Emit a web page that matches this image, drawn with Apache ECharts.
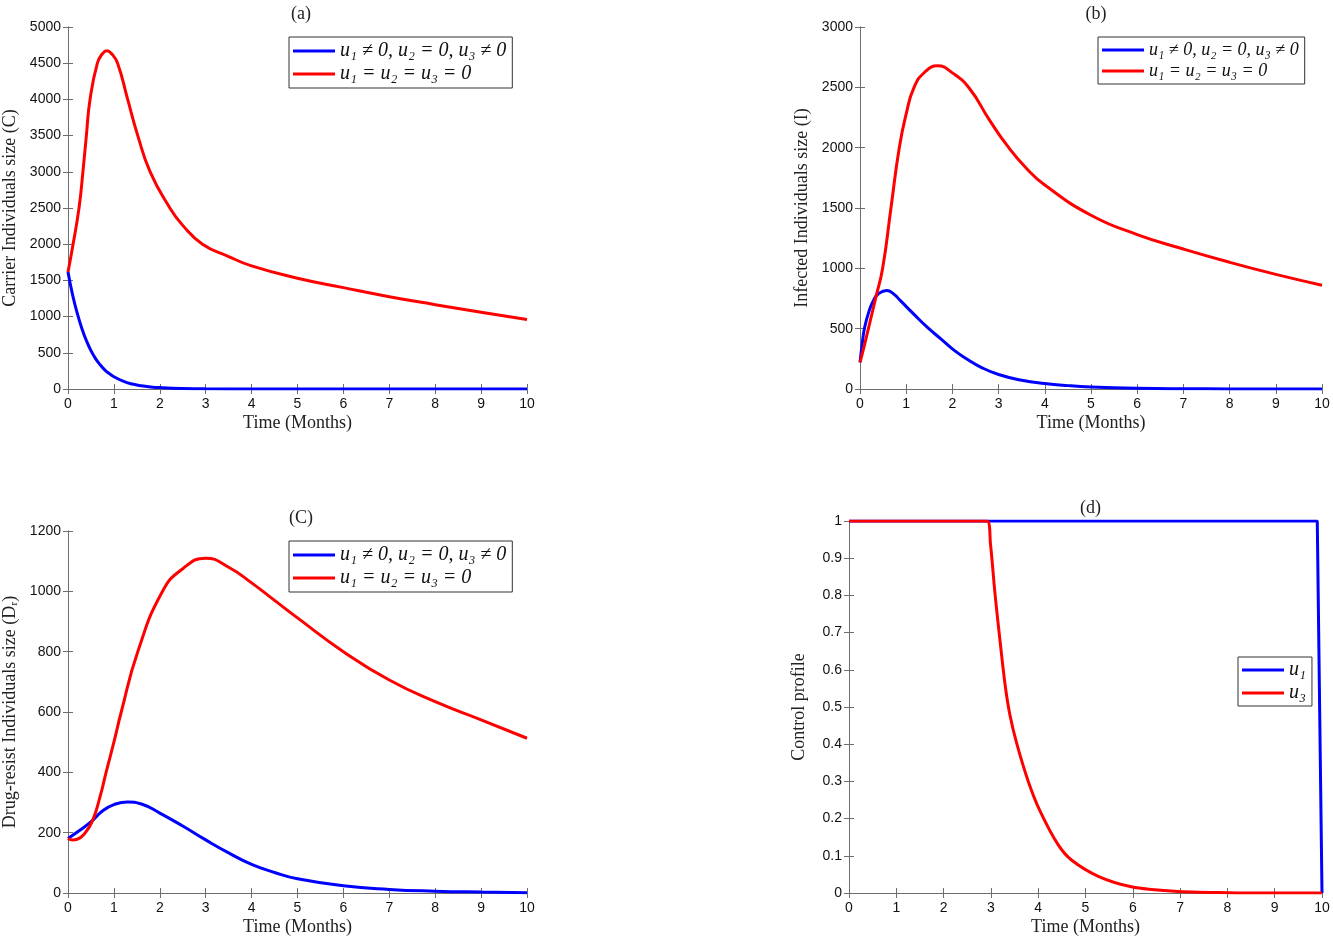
<!DOCTYPE html>
<html>
<head>
<meta charset="utf-8">
<script src="https://cdn.jsdelivr.net/npm/echarts@6/dist/echarts.min.js"></script>
<style>
html,body{margin:0;padding:0;background:#fff;}
#main{width:1333px;height:941px;}
</style>
</head>
<body>
<div id="main"></div>
<script>
// legend names
var nameCtrl = 'u\u2081 \u2260 0, u\u2082 = 0, u\u2083 \u2260 0';
var nameNone = 'u\u2081 = u\u2082 = u\u2083 = 0';
var nameU1 = 'u\u2081';
var nameU3 = 'u\u2083';

// (a) carrier individuals
var tCarrierCtrl = [0,0.1,0.2,0.3,0.4,0.5,0.6,0.7,0.8,0.9,1.0,1.2,1.4,1.6,1.8,2.0,2.5,3,4,5,6,7,8,9,10];
var carrierCtrl  = [1617,1300,1050,840,670,530,420,335,265,212,170,108,68,44,29,20,8,3,1,0,0,0,0,0,0];
var tCarrierNone = [0,0.1,0.24,0.325,0.4,0.48,0.64,0.75,0.85,0.95,1.08,1.3,1.52,1.79,2.2,2.5,2.93,3.5,4,5,6,7,8,9,10];
var carrierNone  = [1617,1960,2500,3000,3500,4000,4500,4630,4672,4630,4500,4000,3500,3000,2520,2260,2000,1830,1700,1530,1400,1275,1165,1060,960];

// (b) infected individuals
var tInfCtrl = [0,0.05,0.1,0.2,0.3,0.4,0.58,0.72,0.88,1.17,1.46,1.75,2.04,2.33,2.62,3,3.5,4,4.5,5,6,7,8,9,10];
var infCtrl  = [220,380,510,650,740,790,816,790,730,618,510,415,320,245,180,120,72,45,28,17,6,2,1,0,0];
var tInfNone = [0,0.1,0.2,0.34,0.49,0.67,0.85,1.0,1.17,1.4,1.68,2.0,2.37,2.8,3.2,3.6,4,5,6,7,8,9,10];
var infNone  = [220,370,530,755,1000,1500,2000,2280,2500,2625,2678,2620,2490,2230,2010,1830,1690,1440,1280,1160,1050,950,860];

// (c) drug-resistant individuals
var tDrCtrl = [0,0.25,0.53,0.75,1.0,1.3,1.6,2.0,2.5,3,3.5,4,4.5,5,6,7,8,9,10];
var drCtrl  = [181,207,240,272,293,302,295,265,222,176,133,95,68,47,24,12,6,3,1];
var tDrNone = [0,0.1,0.2,0.35,0.53,0.7,0.83,1.0,1.16,1.52,2.06,2.5,3,3.5,4,4.5,5,6,7,8,9,10];
var drNone  = [181,176,178,195,238,320,400,500,600,800,1000,1075,1110,1080,1028,970,912,800,706,634,574,513];

// (d) control profile
var tU1 = [0,9.9,10];
var u1  = [1,1,0];
var tU3 = [0,2.92,2.99,3.09,3.2,3.3,3.4,3.55,3.79,4.04,4.42,4.71,5.27,5.97,6.88,8,9,10];
var u3  = [1,1,0.94,0.80,0.67,0.56,0.48,0.40,0.30,0.22,0.13,0.088,0.045,0.017,0.005,0.001,0,0];

function pairs(t, v){
	var res = [];
	for (var i = 0; i < t.length; i++) res.push([t[i], v[i]]);
	return res;
}

var panels = [
	{title:'(a)', left:65, top:27, width:462, height:362, yMax:5000, yInt:500, yName:'Carrier Individuals size (C)', yGap:49},
	{title:'(b)', left:860, top:27, width:462, height:362, yMax:3000, yInt:500, yName:'Infected Individuals size (I)', yGap:49},
	{title:'(C)', left:65, top:531, width:462, height:362, yMax:1200, yInt:200, yName:'Drug-resist Individuals size (D\u1D63)', yGap:49},
	{title:'(d)', left:849, top:521, width:473, height:372, yMax:1, yInt:0.1, yName:'Control profile', yGap:41}
];

var axisColor = '#6e6e6e';
var serif = 'Liberation Serif';
var sans = 'Liberation Sans';

var grids = [], xAxes = [], yAxes = [], titles = [];
panels.forEach(function(p, i){
	grids.push({left:p.left, top:p.top, width:p.width, height:p.height, containLabel:false});
	titles.push({text:p.title, left:p.left + p.width/2, top:p.top - 27, textAlign:'center',
		textStyle:{fontFamily:serif, fontWeight:'normal', fontSize:18, color:'#222'}});
	xAxes.push({type:'value', gridIndex:i, min:0, max:10, interval:1, position:'bottom',
		name:'Time (Months)', nameLocation:'middle', nameGap:25,
		nameTextStyle:{fontFamily:serif, fontSize:18, color:'#222'},
		axisLine:{show:true, lineStyle:{color:axisColor, width:1}},
		axisTick:{show:true, inside:true, length:5, lineStyle:{color:axisColor}},
		axisLabel:{fontFamily:sans, fontSize:14, color:'#111', margin:8},
		splitLine:{show:false}});
	xAxes.push({type:'value', gridIndex:i, min:0, max:10, interval:1, position:'top',
		axisLine:{show:true, lineStyle:{color:axisColor, width:1}},
		axisTick:{show:true, inside:true, length:5, lineStyle:{color:axisColor}},
		axisLabel:{show:false}, splitLine:{show:false}});
	yAxes.push({type:'value', gridIndex:i, min:0, max:p.yMax, interval:p.yInt, position:'left',
		name:p.yName, nameLocation:'middle', nameGap:p.yGap,
		nameTextStyle:{fontFamily:serif, fontSize:18, color:'#222'},
		axisLine:{show:true, lineStyle:{color:axisColor, width:1}},
		axisTick:{show:true, inside:true, length:5, lineStyle:{color:axisColor}},
		axisLabel:{fontFamily:sans, fontSize:14, color:'#111', margin:7,
			formatter:function(v){ return String(Math.round(v * 10) / 10); }},
		splitLine:{show:false}});
	yAxes.push({type:'value', gridIndex:i, min:0, max:p.yMax, interval:p.yInt, position:'right',
		axisLine:{show:true, lineStyle:{color:axisColor, width:1}},
		axisTick:{show:true, inside:true, length:5, lineStyle:{color:axisColor}},
		axisLabel:{show:false}, splitLine:{show:false}});
});

function line(name, data, color, idx, smooth){
	return {name:name, type:'line', data:data, xAxisIndex:idx*2, yAxisIndex:idx*2,
		showSymbol:false, symbol:'none', smooth:smooth,
		lineStyle:{color:color, width:3}, itemStyle:{color:color}, animation:false};
}

var blue = '#0000ff', red = '#ff0000';
var series = [
	line(nameCtrl, pairs(tCarrierCtrl, carrierCtrl), blue, 0, 0.5),
	line(nameNone, pairs(tCarrierNone, carrierNone), red, 0, 0.5),
	line(nameCtrl, pairs(tInfCtrl, infCtrl), blue, 1, 0.5),
	line(nameNone, pairs(tInfNone, infNone), red, 1, 0.5),
	line(nameCtrl, pairs(tDrCtrl, drCtrl), blue, 2, 0.5),
	line(nameNone, pairs(tDrNone, drNone), red, 2, 0.5),
	line(nameU1, pairs(tU1, u1), blue, 3, false),
	line(nameU3, pairs(tU3, u3), red, 3, 0.3)
];

function legendAt(left, top, names, size, pad){
	return {left:left, top:top, orient:'vertical', data:names, icon:'rect',
		itemWidth:42, itemHeight:3, itemGap:3, selectedMode:false,
		backgroundColor:'#fff', borderColor:'#333', borderWidth:1, padding:pad,
		textStyle:{fontFamily:serif, fontStyle:'italic', fontSize:size, color:'#111'}};
}

var chart = echarts.init(document.getElementById('main'));
chart.setOption({
	backgroundColor:'#fff',
	animation:false,
	title:titles,
	grid:grids,
	xAxis:xAxes,
	yAxis:yAxes,
	legend:[
		legendAt(289, 37, [nameCtrl, nameNone], 20, [4,6,4,4]),
		legendAt(1098, 37, [nameCtrl, nameNone], 18, [4,6,4,4]),
		legendAt(289, 541, [nameCtrl, nameNone], 20, [4,6,4,4]),
		legendAt(1238, 657, [nameU1, nameU3], 20, [3,6,3,4])
	],
	series:series
});
</script>
</body>
</html>
